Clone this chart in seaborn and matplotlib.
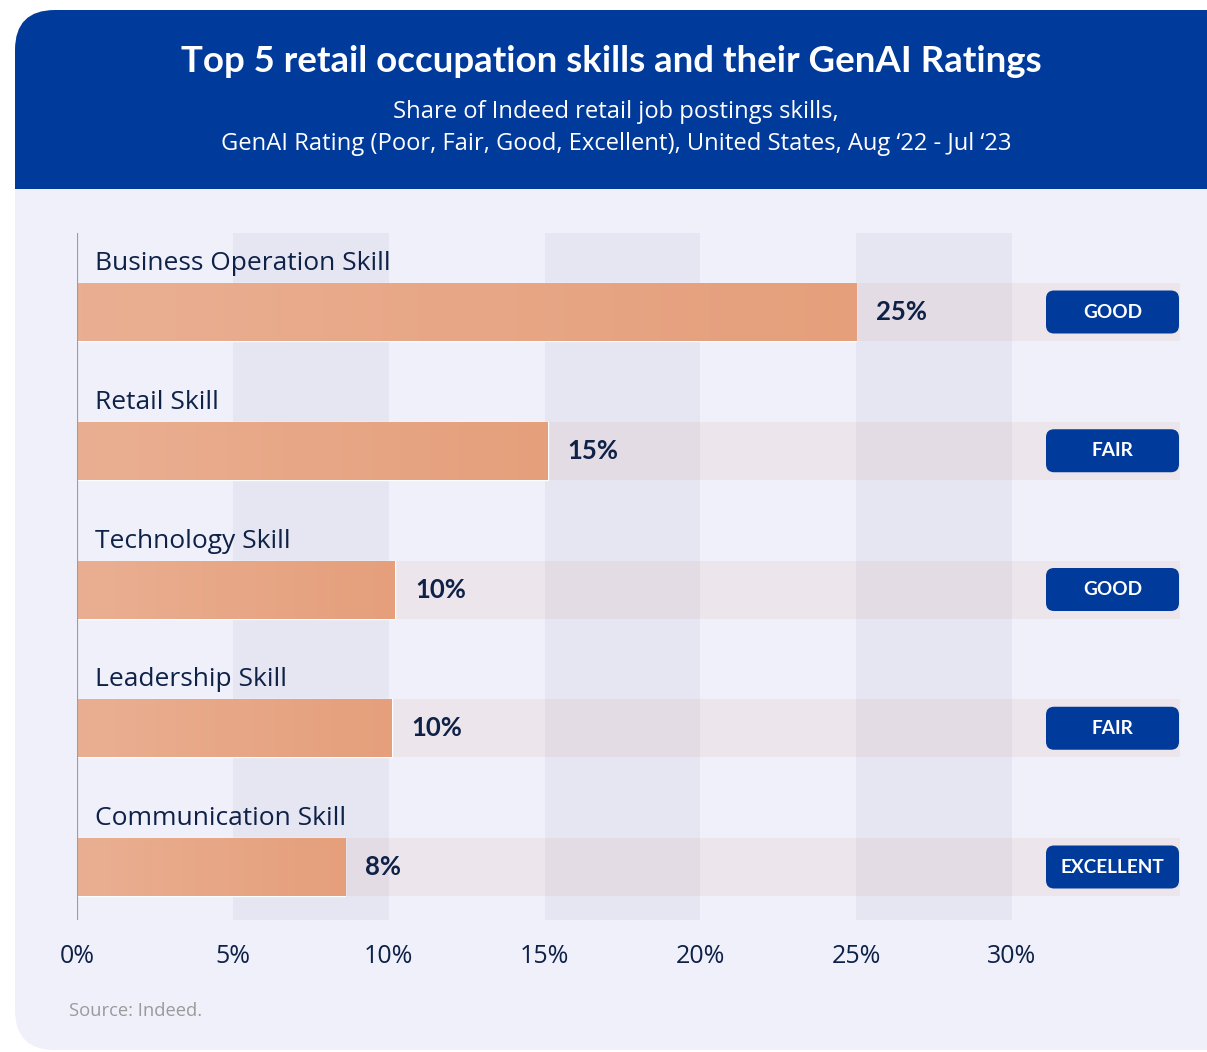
# coding:utf-8

import numpy as np
import pandas as pd
import matplotlib
matplotlib.use("Agg")
import matplotlib.pyplot as plt
from matplotlib.patches import FancyBboxPatch, Rectangle
from matplotlib.colors import LinearSegmentedColormap
import seaborn as sns


######################################################
# data
skills = [
    "Business Operation Skill",
    "Retail Skill",
    "Technology Skill",
    "Leadership Skill",
    "Communication Skill",
]
shares = [25.0, 15.1, 10.2, 10.1, 8.6]
share_text = ["25%", "15%", "10%", "10%", "8%"]
ratings = ["GOOD", "FAIR", "GOOD", "FAIR", "EXCELLENT"]
tick_vals = [0, 5, 10, 15, 20, 25, 30]
tick_text = ["0%", "5%", "10%", "15%", "20%", "25%", "30%"]

title = "Top 5 retail occupation skills and their GenAI Ratings"
subtitle_1 = "Share of Indeed retail job postings skills,"
subtitle_2 = "GenAI Rating (Poor, Fair, Good, Excellent), United States, Aug \u201822 - Jul \u201823"
source = "Source: Indeed."

BLUE = "#003A9B"
NAVY = "#0E2147"
BODY = "#F0F0FB"
TRACK = "#EDE5EC"

sns.set_theme(style="white")
plt.rcParams["font.family"] = ["Lato", "DejaVu Sans"]
REG = ["Open Sans", "DejaVu Sans"]

df = pd.DataFrame({"skill": skills, "share": shares})

W, H = 1207, 1052
fig = plt.figure(figsize=(W / 100, H / 100), dpi=100, facecolor="white")

######################################################
# card + header (inches)
inch = fig.dpi_scale_trans
card = FancyBboxPatch((0.15, 0.02), 12.5, 10.40,
                      boxstyle="round,pad=0,rounding_size=0.4",
                      fc=BODY, ec="none", transform=inch, zorder=-3)
head = FancyBboxPatch((0.15, 7.92), 12.5, 2.50,
                      boxstyle="round,pad=0,rounding_size=0.4",
                      fc=BLUE, ec="none", transform=inch, zorder=-2)
cover = Rectangle((0.15, 7.5), 12.5, (H - 189) / 100 - 7.5,
                  fc=BODY, ec="none", transform=inch, zorder=-1)
for p in (card, head, cover):
    fig.patches.append(p)

fig.text(611 / W, 1 - 62 / H, title, ha="center", va="center",
         fontsize=26.4, fontweight="bold", color="white")
fig.text(616 / W, 1 - 112 / H, subtitle_1, ha="center", va="center",
         fontsize=17.1, color="white", family=REG)
fig.text(616 / W, 1 - 144 / H, subtitle_2, ha="center", va="center",
         fontsize=17.1, color="white", family=REG)
fig.text(69 / W, 1 - 1011 / H, source, ha="left", va="center",
         fontsize=13.2, color="#9A9A9A", family=REG)

######################################################
# chart
ax = fig.add_axes([77 / W, (H - 920) / H, (1180 - 77) / W, 687 / H])
ax.set_facecolor("none")

px_per_x = 935 / 30.0
px_per_y = 138.75
xmax = 1103 / px_per_x
bar_h = 58 / px_per_y

sns.barplot(data=df, x="share", y="skill", orient="h", width=bar_h,
            color="#E7A480", saturation=1, ax=ax, zorder=2)
bars = list(ax.patches)

# background tracks behind bars
ax.barh(np.arange(len(skills)), [xmax] * len(skills), height=bar_h,
        color=TRACK, zorder=0.5, lw=0)

# alternating shaded bands
for lo in tick_vals[1::2]:
    ax.axvspan(lo, lo + 5, color=(0.40, 0.40, 0.55), alpha=0.07, lw=0, zorder=1)

# gradient fill on bars
cmap = LinearSegmentedColormap.from_list("bar", ["#EAAF92", "#E59F7B"])
grad = np.linspace(0, 1, 256).reshape(1, -1)
for p in bars:
    x0, y0 = p.get_x(), p.get_y()
    im = ax.imshow(grad, extent=(x0, x0 + p.get_width(), y0 + p.get_height(), y0),
                   cmap=cmap, aspect="auto", zorder=2.1, interpolation="bilinear")
    im.set_clip_path(p)

for i, (skill, v, lab, r) in enumerate(zip(skills, shares, share_text, ratings)):
    ax.text(18 / px_per_x, i - 42 / px_per_y, skill, fontsize=19, color=NAVY,
            va="baseline", ha="left", zorder=4, family=REG)
    ax.text(v + 20 / px_per_x, i, lab, fontsize=18.5, fontweight="bold", color=NAVY,
            va="center", ha="left", zorder=4)
    bx0 = (1046 - 77) / px_per_x
    bw = 133 / px_per_x
    bh = 43 / px_per_y
    badge = FancyBboxPatch((bx0, i - bh / 2), bw, bh,
                           boxstyle="round,pad=0,rounding_size=0.26",
                           mutation_aspect=px_per_x / px_per_y,
                           fc=BLUE, ec="none", zorder=4)
    ax.add_patch(badge)
    ax.text(bx0 + bw / 2, i, r, fontsize=13.7, fontweight="bold", color="white",
            ha="center", va="center", zorder=5)

ax.axvline(0, color="#9C9CA8", lw=1.6, zorder=3)

ax.set_xlim(0, xmax)
ax.set_ylim(4 + 53 / px_per_y, -79 / px_per_y)
ax.set_xticks(tick_vals, tick_text, family=REG)
ax.set_yticks([])
ax.tick_params(axis="x", length=0, pad=17.5, labelsize=18, labelcolor=NAVY)
ax.set_xlabel("")
ax.set_ylabel("")
sns.despine(ax=ax, left=True, bottom=True)

fig.savefig("out.png", dpi=100, facecolor="white")
